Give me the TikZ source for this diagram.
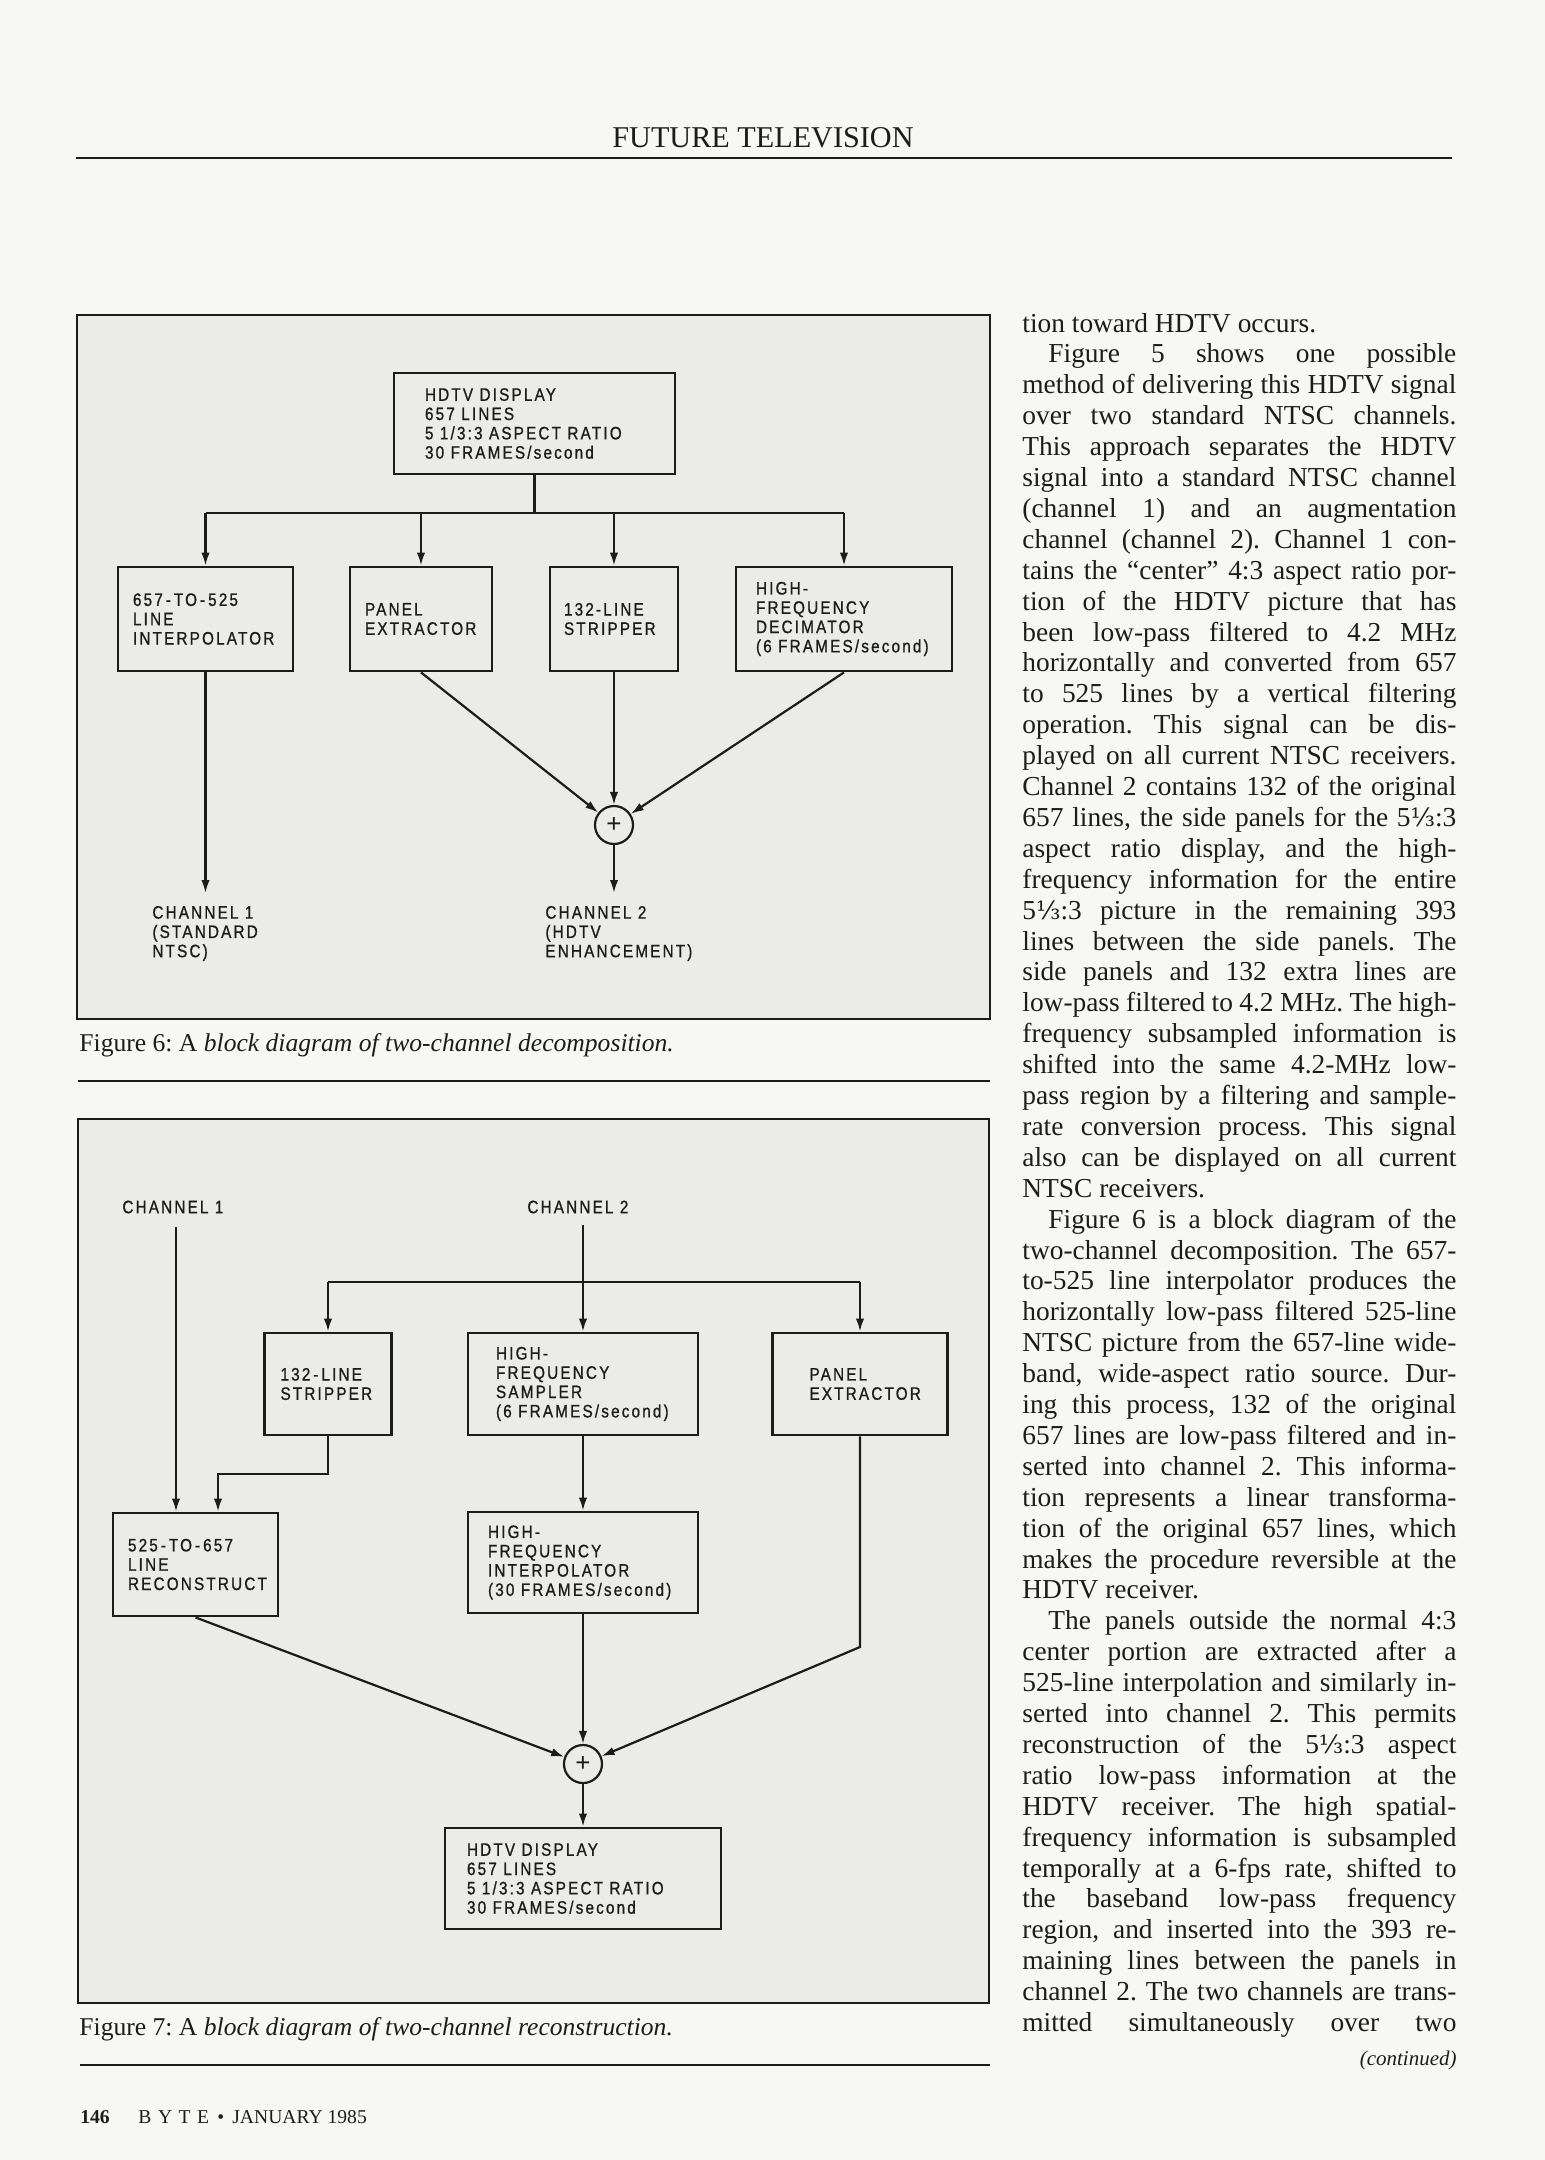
\documentclass[tikz,border=0pt]{standalone}
\usepackage{fontspec}
\setmainfont{Liberation Serif}
\newfontfamily\diagfont[FakeStretch=0.85,LetterSpace=12,FakeBold=0.9]{Liberation Sans}
\newfontfamily\plainsans{Liberation Sans}
\newfontfamily\thirdfont[Scale=0.92]{DejaVu Serif}
\usetikzlibrary{arrows.meta}
\definecolor{pagebg}{HTML}{F7F7F5}
\definecolor{framebg}{HTML}{EBEBE9}
\definecolor{ink}{HTML}{1C1C1C}
\newcommand\onethird{{\thirdfont ⅓}}
\newcommand\bodyj[2]{\node[body] (t#1) at (1022,{332+(#1-1)*30.9}) {\makebox[217pt][s]{#2}};}
\newcommand\bodye[2]{\node[body] (t#1) at (1022,{332+(#1-1)*30.9}) {#2};}
\frenchspacing
\begin{document}
\begin{tikzpicture}[x=0.5pt,y=-0.5pt,
  every node/.style={inner sep=0pt, text=ink},
  box/.style={draw=ink, line width=1.4pt, fill=framebg, rectangle},
  dtext/.style={font=\diagfont\fontsize{9pt}{9.65pt}\selectfont, align=left, anchor=west},
  wire/.style={draw=ink, line width=1.1pt},
  arr/.style={wire, -{Latex[length=6.5pt,width=4.2pt]}},
  sum/.style={draw=ink, line width=1.1pt, circle, minimum size=19pt, fill=framebg, font=\plainsans\fontsize{13pt}{13pt}\selectfont},
  body/.style={anchor=base west, font=\fontsize{13.7pt}{15.5pt}\selectfont},
  figcap/.style={anchor=base west, font=\fontsize{12.8pt}{15pt}\selectfont},
  figframe/.style={draw=ink, line width=1pt, fill=framebg},
  hrule/.style={draw=ink, line width=1.1pt}
]
\useasboundingbox (0,0) rectangle (1545,2160);
\fill[pagebg] (0,0) rectangle (1545,2160);

% ---------- header ----------
\node[anchor=base, font=\fontsize{15.1pt}{18pt}\selectfont] (hdr) at (763,147) {FUTURE TELEVISION};
\coordinate (hrL) at (76,158); \coordinate (hrR) at (1452,158);
\draw[hrule, line width=1.4pt] (hrL) -- (hrR);

% ---------- Figure 6 ----------
\coordinate (f6a) at (77,315); \coordinate (f6b) at (990,1019);
\draw[figframe] (f6a) rectangle (f6b);

\node[box, minimum width=140.5pt, minimum height=50.5pt] (hd6) at (534.5,423.5) {};
\node[box, minimum width=87.5pt, minimum height=52pt] (A6) at (205.5,619) {};
\node[box, minimum width=71pt, minimum height=52pt] (B6) at (421,619) {};
\node[box, minimum width=64pt, minimum height=52pt] (C6) at (614,619) {};
\node[box, minimum width=108pt, minimum height=52pt] (D6) at (844,619) {};
\node[sum] (s6) at (614,825) {+};

\coordinate (j6) at (534.5,513);
\coordinate (b6a) at (205.5,513); \coordinate (b6b) at (421,513);
\coordinate (b6c) at (614,513); \coordinate (b6d) at (844,513);
\coordinate (o6a) at (205.5,893); \coordinate (o6b) at (614,893);

\draw[wire] (hd6.south) -- (j6);
\draw[wire] (b6a) -- (b6d);
\draw[arr] (b6a) -- (A6.north);
\draw[arr] (b6b) -- (B6.north);
\draw[arr] (b6c) -- (C6.north);
\draw[arr] (b6d) -- (D6.north);
\draw[arr] (A6.south) -- (o6a);
\draw[arr] (B6.south) -- (s6);
\draw[arr] (C6.south) -- (s6);
\draw[arr] (D6.south) -- (s6);
\draw[arr] (s6) -- (o6b);

\node[dtext] (hd6t) at ([xshift=16pt]hd6.west) {HDTV DISPLAY\\657 LINES\\5 1/3:3 ASPECT RATIO\\30 FRAMES/second};
\node[dtext] (A6t) at ([xshift=8pt]A6.west) {657\,-\,TO\,-\,525\\LINE\\INTERPOLATOR};
\node[dtext] (B6t) at ([xshift=8pt]B6.west) {PANEL\\EXTRACTOR};
\node[dtext] (C6t) at ([xshift=7.5pt]C6.west) {132-LINE\\STRIPPER};
\node[dtext] (D6t) at ([xshift=10.5pt]D6.west) {HIGH-\\FREQUENCY\\DECIMATOR\\(6 FRAMES/second)};
\node[dtext] (ch61) at (152,933.5) {CHANNEL 1\\(STANDARD\\NTSC)};
\node[dtext] (ch62) at (545,933.5) {CHANNEL 2\\(HDTV\\ENHANCEMENT)};

\node[figcap] (cap6) at (79,1051) {Figure 6: A \textit{block diagram of two-channel decomposition.}};
\coordinate (r6L) at (78,1081); \coordinate (r6R) at (990,1081);
\draw[hrule] (r6L) -- (r6R);

% ---------- Figure 7 ----------
\coordinate (f7a) at (78,1119); \coordinate (f7b) at (989,2003);
\draw[figframe] (f7a) rectangle (f7b);

\node[box, minimum width=63.5pt, minimum height=51pt] (T7) at (328,1384) {};
\node[box, minimum width=115pt, minimum height=51pt] (S7) at (583,1384) {};
\node[box, minimum width=87.5pt, minimum height=51pt] (P7) at (860,1384) {};
\node[box, minimum width=82.5pt, minimum height=51.5pt] (R7) at (195.5,1564.5) {};
\node[box, minimum width=115pt, minimum height=50.5pt] (I7) at (583,1562.5) {};
\node[sum] (s7) at (583,1764) {+};
\node[box, minimum width=138pt, minimum height=50.5pt] (H7) at (583,1878.5) {};

\coordinate (i7a) at (176,1227); \coordinate (i7b) at (583,1225);
\coordinate (b7l) at (328,1282); \coordinate (b7r) at (860,1282);
\coordinate (t7a) at (328,1474); \coordinate (t7b) at (218,1474);
\coordinate (p7c) at (860,1647);

\draw[arr] (i7a) -- (i7a |- R7.north);
\draw[arr] (i7b) -- (S7.north);
\draw[wire] (b7l) -- (b7r);
\draw[arr] (b7l) -- (T7.north);
\draw[arr] (b7r) -- (P7.north);
\draw[arr] (T7.south) -- (t7a) -- (t7b) -- (t7b |- R7.north);
\draw[arr] (S7.south) -- (I7.north);
\draw[arr] (I7.south) -- (s7);
\draw[arr] (R7.south) -- (s7);
\draw[arr] (P7.south) -- (p7c) -- (s7);
\draw[arr] (s7) -- (H7.north);

\node[dtext] (c71) at (122,1207) {CHANNEL 1};
\node[dtext] (c72) at (527,1207) {CHANNEL 2};
\node[dtext] (T7t) at ([xshift=8.5pt]T7.west) {132\,-\,LINE\\STRIPPER};
\node[dtext] (S7t) at ([xshift=14.5pt]S7.west) {HIGH-\\FREQUENCY\\SAMPLER\\(6 FRAMES/second)};
\node[dtext] (P7t) at ([xshift=19pt]P7.west) {PANEL\\EXTRACTOR};
\node[dtext] (R7t) at ([xshift=8pt]R7.west) {525\,-\,TO\,-\,657\\LINE\\RECONSTRUCT};
\node[dtext] (I7t) at ([xshift=10.5pt]I7.west) {HIGH-\\FREQUENCY\\INTERPOLATOR\\(30 FRAMES/second)};
\node[dtext] (H7t) at ([xshift=11.5pt]H7.west) {HDTV DISPLAY\\657 LINES\\5 1/3:3 ASPECT RATIO\\30 FRAMES/second};

\node[figcap] (cap7) at (79,2035) {Figure 7: A \textit{block diagram of two-channel reconstruction.}};
\coordinate (r7L) at (80,2065); \coordinate (r7R) at (990,2065);
\draw[hrule] (r7L) -- (r7R);

% ---------- footer ----------
\node[anchor=base west, font=\fontsize{9.8pt}{12pt}\selectfont\bfseries] (pg) at (80,2123) {146};
\node[anchor=base west, font=\fontsize{9.8pt}{12pt}\selectfont] (mag) at (138,2123) {B\,\,Y\,\,T\,\,E\, • \,JANUARY 1985};

% ---------- text column ----------
\bodye{1}{tion toward HDTV occurs.}
\bodyj{2}{\hspace*{13pt}Figure 5 shows one possible}
\bodyj{3}{method of delivering this HDTV signal}
\bodyj{4}{over two standard NTSC channels.}
\bodyj{5}{This approach separates the HDTV}
\bodyj{6}{signal into a standard NTSC channel}
\bodyj{7}{(channel 1) and an augmentation}
\bodyj{8}{channel (channel 2). Channel 1 con-}
\bodyj{9}{tains the ``center'' 4:3 aspect ratio por-}
\bodyj{10}{tion of the HDTV picture that has}
\bodyj{11}{been low-pass filtered to 4.2 MHz}
\bodyj{12}{horizontally and converted from 657}
\bodyj{13}{to 525 lines by a vertical filtering}
\bodyj{14}{operation. This signal can be dis-}
\bodyj{15}{played on all current NTSC receivers.}
\bodyj{16}{Channel 2 contains 132 of the original}
\bodyj{17}{657 lines, the side panels for the 5\onethird:3}
\bodyj{18}{aspect ratio display, and the high-}
\bodyj{19}{frequency information for the entire}
\bodyj{20}{5\onethird:3 picture in the remaining 393}
\bodyj{21}{lines between the side panels. The}
\bodyj{22}{side panels and 132 extra lines are}
\bodyj{23}{low-pass filtered to 4.2 MHz. The high-}
\bodyj{24}{frequency subsampled information is}
\bodyj{25}{shifted into the same 4.2-MHz low-}
\bodyj{26}{pass region by a filtering and sample-}
\bodyj{27}{rate conversion process. This signal}
\bodyj{28}{also can be displayed on all current}
\bodye{29}{NTSC receivers.}
\bodyj{30}{\hspace*{13pt}Figure 6 is a block diagram of the}
\bodyj{31}{two-channel decomposition. The 657-}
\bodyj{32}{to-525 line interpolator produces the}
\bodyj{33}{horizontally low-pass filtered 525-line}
\bodyj{34}{NTSC picture from the 657-line wide-}
\bodyj{35}{band, wide-aspect ratio source. Dur-}
\bodyj{36}{ing this process, 132 of the original}
\bodyj{37}{657 lines are low-pass filtered and in-}
\bodyj{38}{serted into channel 2. This informa-}
\bodyj{39}{tion represents a linear transforma-}
\bodyj{40}{tion of the original 657 lines, which}
\bodyj{41}{makes the procedure reversible at the}
\bodye{42}{HDTV receiver.}
\bodyj{43}{\hspace*{13pt}The panels outside the normal 4:3}
\bodyj{44}{center portion are extracted after a}
\bodyj{45}{525-line interpolation and similarly in-}
\bodyj{46}{serted into channel 2. This permits}
\bodyj{47}{reconstruction of the 5\onethird:3 aspect}
\bodyj{48}{ratio low-pass information at the}
\bodyj{49}{HDTV receiver. The high spatial-}
\bodyj{50}{frequency information is subsampled}
\bodyj{51}{temporally at a 6-fps rate, shifted to}
\bodyj{52}{the baseband low-pass frequency}
\bodyj{53}{region, and inserted into the 393 re-}
\bodyj{54}{maining lines between the panels in}
\bodyj{55}{channel 2. The two channels are trans-}
\bodyj{56}{mitted simultaneously over two}
\node[anchor=base east, font=\fontsize{10.5pt}{12pt}\selectfont\itshape] (cont) at (1457,2065) {(continued)};
\end{tikzpicture}
\end{document}
